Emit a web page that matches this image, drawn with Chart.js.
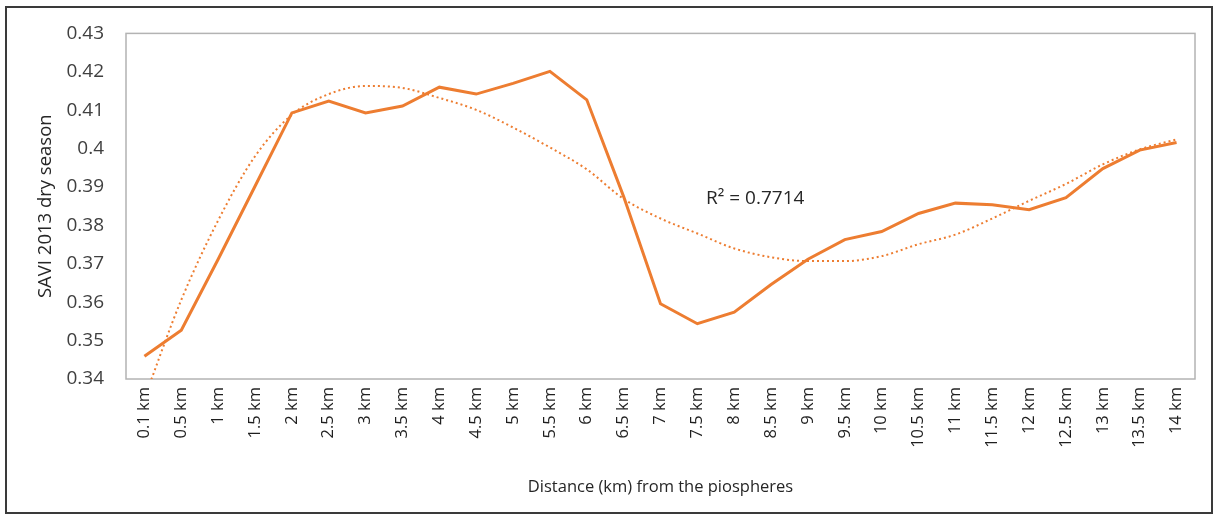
<!DOCTYPE html>
<html>
<head>
<meta charset="utf-8">
<title>SAVI 2013 dry season</title>
<script src="https://cdn.jsdelivr.net/npm/chart.js@4.4.0/dist/chart.umd.min.js"></script>
<style>
  html, body { margin: 0; padding: 0; background: #fff; }
  #wrap { width: 1218px; height: 520px; position: relative; }
</style>
</head>
<body>
<div id="wrap"><canvas id="chart"></canvas></div>
<script>
// distance classes along the x axis
const distances = ['0.1 km', '0.5 km', '1 km', '1.5 km', '2 km', '2.5 km', '3 km', '3.5 km',
  '4 km', '4.5 km', '5 km', '5.5 km', '6 km', '6.5 km', '7 km', '7.5 km', '8 km', '8.5 km',
  '9 km', '9.5 km', '10 km', '10.5 km', '11 km', '11.5 km', '12 km', '12.5 km', '13 km',
  '13.5 km', '14 km'];

// mean SAVI per distance class
const saviDry = [0.3459, 0.3527, 0.3712, 0.3902, 0.4093, 0.4124, 0.4093, 0.4111,
  0.4160, 0.4142, 0.4170, 0.4201, 0.4127, 0.3875, 0.3596, 0.3544, 0.3574, 0.3646,
  0.3712, 0.3763, 0.3784, 0.3831, 0.3858, 0.3854, 0.3841, 0.3872, 0.3948, 0.3996,
  0.4016];

// dotted polynomial trendline as drawn in the figure
const trendLine = [0.3350, 0.3606, 0.3813, 0.3980, 0.4088, 0.4142, 0.4163, 0.4158,
  0.4132, 0.4101, 0.4055, 0.4003, 0.3946, 0.3869, 0.3818, 0.3779, 0.3740, 0.3717,
  0.3707, 0.3707, 0.3720, 0.3751, 0.3776, 0.3818, 0.3864, 0.3908, 0.3959, 0.3998,
  0.4024];

const yMin = 0.34, yMax = 0.43, yStep = 0.01;
const r2Text = 'R² = 0.7714';
const r2Anchor = { index: 16.57, value: 0.3869 };

const orange = '#ED7D31';
const textColor = '#404040';

// plot frame, outer border and the R² label
const decorations = {
  id: 'decorations',
  beforeDraw(chart) {
    const ctx = chart.ctx;
    ctx.save();
    ctx.fillStyle = '#fff';
    ctx.fillRect(0, 0, chart.width, chart.height);
    ctx.restore();
  },
  beforeDatasetsDraw(chart) {
    const { ctx, chartArea: a } = chart;
    ctx.save();
    ctx.strokeStyle = '#b3b3b3';
    ctx.lineWidth = 1.5;
    ctx.strokeRect(a.left, a.top, a.right - a.left, a.bottom - a.top);
    ctx.restore();
  },
  afterDraw(chart) {
    const ctx = chart.ctx;
    ctx.save();
    ctx.strokeStyle = '#3a3a3a';
    ctx.lineWidth = 2;
    ctx.strokeRect(6, 7, chart.width - 12, chart.height - 14);
    const x = chart.scales.x.getPixelForValue(r2Anchor.index);
    const y = chart.scales.y.getPixelForValue(r2Anchor.value);
    ctx.fillStyle = '#262626';
    ctx.font = '19px "Open Sans", sans-serif';
    ctx.textAlign = 'center';
    ctx.textBaseline = 'middle';
    ctx.fillText(r2Text, x, y);
    ctx.restore();
  }
};

new Chart(document.getElementById('chart'), {
  type: 'line',
  data: {
    labels: distances,
    datasets: [
      {
        label: 'SAVI 2013 dry season',
        data: saviDry,
        borderColor: orange,
        borderWidth: 3,
        pointRadius: 0,
        tension: 0,
        fill: false
      },
      {
        label: 'Poly. trend',
        data: trendLine,
        borderColor: orange,
        borderWidth: 2,
        borderDash: [2, 3],
        pointRadius: 0,
        cubicInterpolationMode: 'monotone',
        fill: false,
        clip: 0
      }
    ]
  },
  options: {
    responsive: true,
    maintainAspectRatio: false,
    animation: false,
    layout: { padding: { top: 30, right: 23, left: 0, bottom: 0 } },
    plugins: {
      legend: { display: false },
      tooltip: { enabled: false }
    },
    scales: {
      x: {
        offset: true,
        grid: { display: false, drawTicks: false },
        border: { display: false },
        ticks: {
          autoSkip: false,
          minRotation: 90,
          maxRotation: 90,
          padding: 8,
          color: '#1f1f1f',
          font: { family: '"Open Sans", sans-serif', size: 16.5 }
        },
        title: {
          display: true,
          text: 'Distance (km) from the piospheres',
          color: '#262626',
          font: { family: '"Open Sans", sans-serif', size: 16.5 },
          padding: { top: 0, bottom: 23 }
        },
        afterFit(scale) { scale.height = 141; }
      },
      y: {
        min: yMin,
        max: yMax,
        grid: { display: false, drawTicks: false },
        border: { display: false },
        ticks: {
          stepSize: yStep,
          padding: 22,
          color: textColor,
          font: { family: '"Open Sans", sans-serif', size: 19 },
          callback: (v) => String(parseFloat(Number(v).toFixed(2)))
        },
        title: {
          display: true,
          text: 'SAVI 2013 dry season',
          color: '#262626',
          font: { family: '"Open Sans", sans-serif', size: 18.5 },
          padding: { top: 35, bottom: 0 }
        },
        afterFit(scale) { scale.width = 126; }
      }
    }
  },
  plugins: [decorations]
});
</script>
</body>
</html>
